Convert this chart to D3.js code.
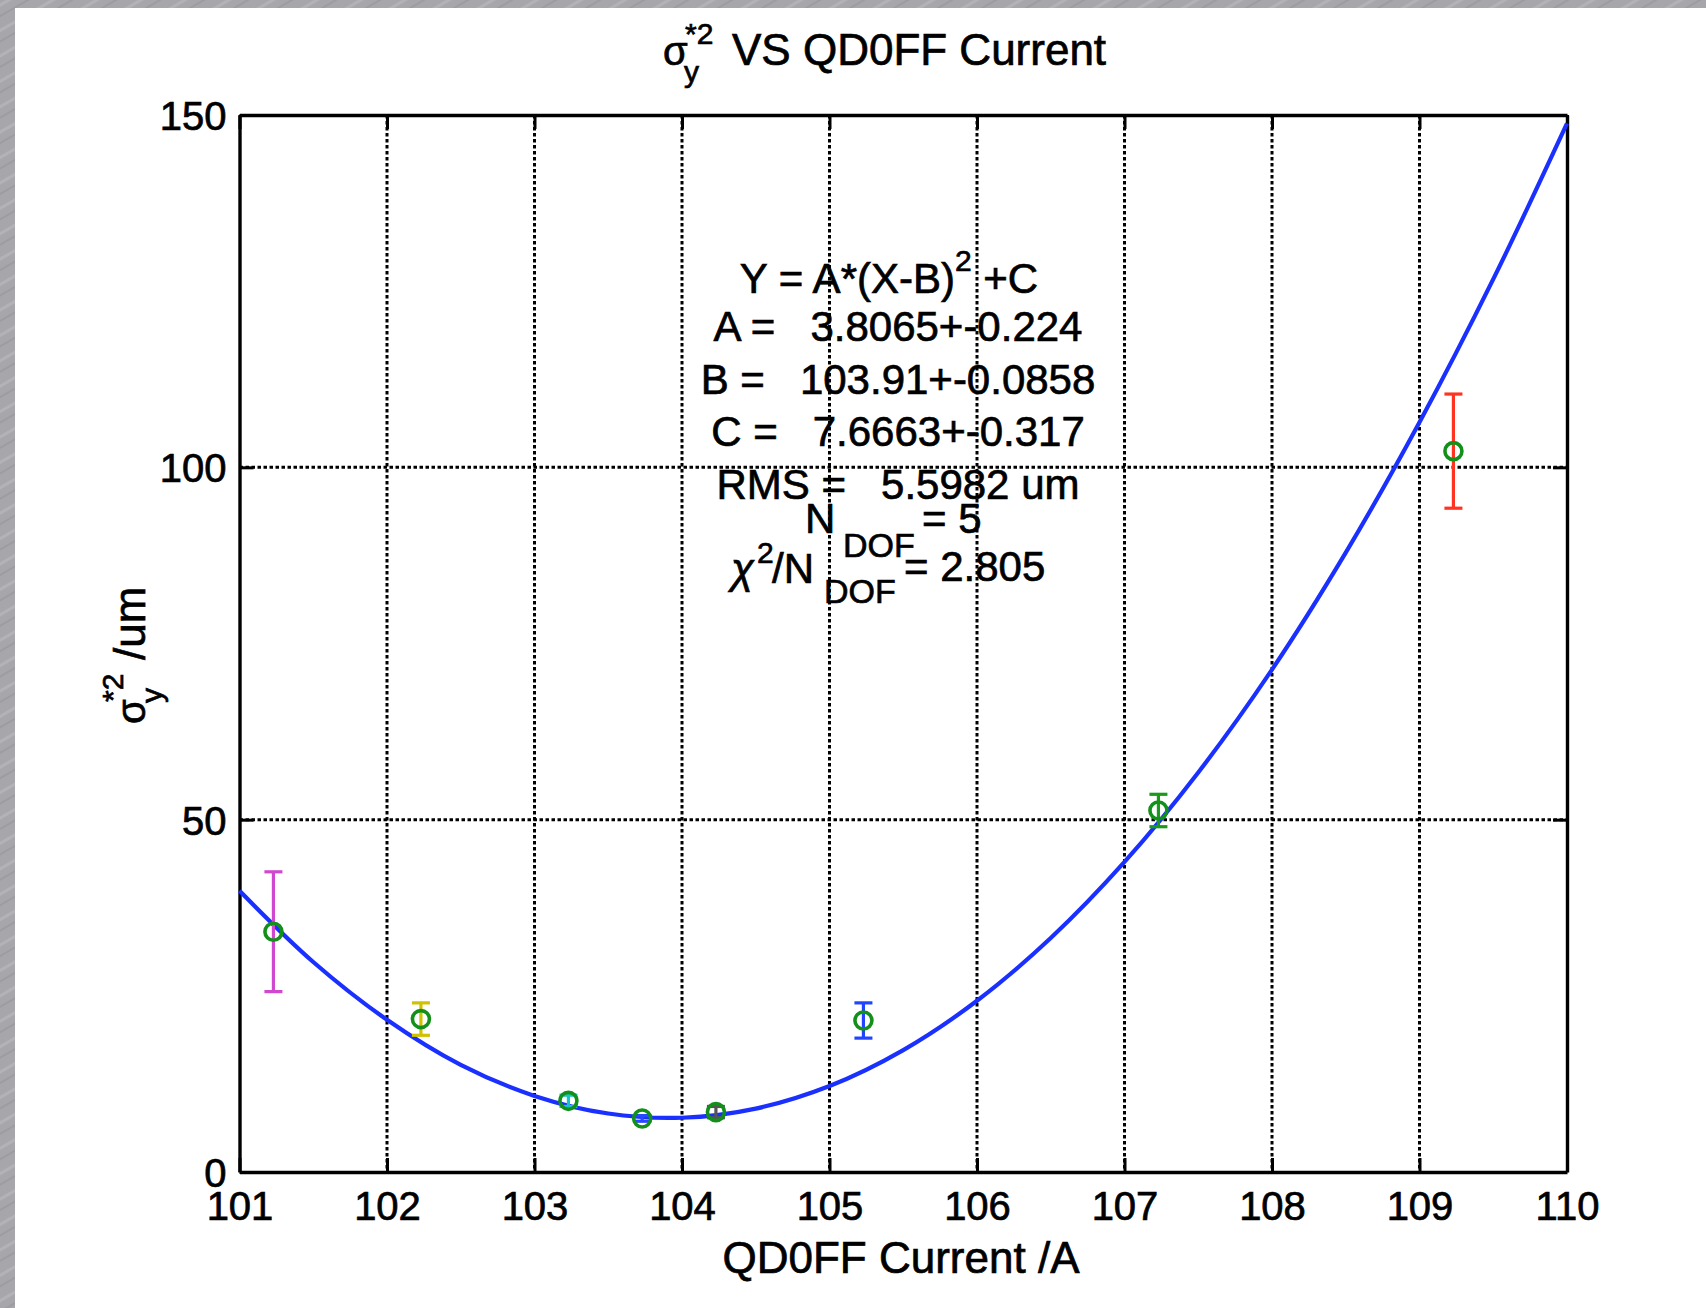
<!DOCTYPE html>
<html>
<head>
<meta charset="utf-8">
<script src="https://cdn.jsdelivr.net/npm/d3@7"></script>
<style>
  html, body { margin: 0; padding: 0; background: #ffffff; }
  svg text { font-family: "Liberation Sans", Arial, Helvetica, sans-serif; fill: #000; white-space: pre; stroke: #000; stroke-width: 0.7px; }
</style>
</head>
<body>
<svg id="chart" width="1706" height="1308"></svg>
<script>
// ---------------- data ----------------
const currents   = [101.23, 102.23, 103.23, 103.73, 104.23, 105.23, 107.23, 109.23];
const sigmaSq    = [34.1, 21.7, 10.1, 7.6, 8.5, 21.5, 51.3, 102.3];
const sigmaErr   = [8.5, 2.3, 0.8, 0.4, 0.8, 2.5, 2.3, 8.1];
const errColors  = ["#d048d0", "#cfc200", "#19c4c4", "#2a48ff", "#555555", "#2244ff", "#1a9a1a", "#ff3322"];

const fitCurrents = [101, 101.5, 102, 102.5, 103, 103.5, 104, 104.5, 105, 105.5, 106, 106.5, 107, 107.5, 108, 108.5, 109, 109.5, 110];
const fitValues   = [39.9, 29.8, 21.6, 15.2, 10.8, 8.3, 7.7, 9.0, 12.2, 17.3, 24.3, 33.2, 44.0, 56.7, 71.3, 87.9, 106.4, 126.7, 148.8];

const xTicks = [101, 102, 103, 104, 105, 106, 107, 108, 109, 110];
const yTicks = [0, 50, 100, 150];

const fitLines = [
  "A =   3.8065+-0.224",
  "B =   103.91+-0.0858",
  "C =   7.6663+-0.317",
  "RMS =   5.5982 um"
];

// ---------------- layout ----------------
const W = 1706, H = 1308;
const plot = { left: 239.5, right: 1567, top: 115, bottom: 1172 };

const svg = d3.select("#chart");

// brushed-metal background strips
const defs = svg.append("defs");
const pat = defs.append("pattern").attr("id", "metal").attr("patternUnits", "userSpaceOnUse")
  .attr("width", 22).attr("height", 22).attr("patternTransform", "rotate(-30)");
pat.append("rect").attr("width", 22).attr("height", 22).attr("fill", "#a7a6ab");
pat.append("rect").attr("y", 3).attr("width", 22).attr("height", 3).attr("fill", "#b3b2b7");
pat.append("rect").attr("y", 13).attr("width", 22).attr("height", 2).attr("fill", "#9d9ca1");
svg.append("rect").attr("width", W).attr("height", H).attr("fill", "url(#metal)");
svg.append("rect").attr("x", 15).attr("y", 8).attr("width", W - 15).attr("height", H - 8).attr("fill", "#ffffff");

const x = d3.scaleLinear().domain([101, 110]).range([plot.left, plot.right]);
const y = d3.scaleLinear().domain([0, 150]).range([plot.bottom, plot.top]);

const g = svg.append("g");

// grid lines (dotted)
g.append("g").selectAll("line").data(xTicks.slice(1, -1)).join("line")
  .attr("x1", d => x(d)).attr("x2", d => x(d))
  .attr("y1", plot.top).attr("y2", plot.bottom)
  .attr("stroke", "#000").attr("stroke-width", 3).attr("stroke-dasharray", "3.5,2.5");
g.append("g").selectAll("line").data(yTicks.slice(1, -1)).join("line")
  .attr("x1", plot.left).attr("x2", plot.right)
  .attr("y1", d => y(d)).attr("y2", d => y(d))
  .attr("stroke", "#000").attr("stroke-width", 3).attr("stroke-dasharray", "3.5,2.5");

// axes with inward ticks
const tickLen = 14;
const axB = d3.axisBottom(x).tickValues(xTicks).tickSize(-tickLen).tickSizeOuter(0).tickPadding(22);
const axT = d3.axisTop(x).tickValues(xTicks).tickSize(-tickLen).tickSizeOuter(0).tickFormat("");
const axL = d3.axisLeft(y).tickValues(yTicks).tickSize(-tickLen).tickSizeOuter(0).tickPadding(14);
const axR = d3.axisRight(y).tickValues(yTicks).tickSize(-tickLen).tickSizeOuter(0).tickFormat("");

function styleAxis(sel) {
  sel.select(".domain").attr("stroke", "#000").attr("stroke-width", 3.4);
  sel.selectAll(".tick line").attr("stroke", "#000").attr("stroke-width", 3);
  sel.selectAll(".tick text").attr("font-size", 40).attr("fill", "#000")
     .style("font-family", "'Liberation Sans', Arial, sans-serif");
}
const gB = g.append("g").attr("transform", `translate(0,${plot.bottom})`).call(axB).call(styleAxis);
gB.selectAll(".tick text").attr("dy", "0.71em").attr("y", 20);
g.append("g").attr("transform", `translate(0,${plot.top})`).call(axT).call(styleAxis);
const gL = g.append("g").attr("transform", `translate(${plot.left},0)`).call(axL).call(styleAxis);
gL.selectAll(".tick text").attr("x", -13).attr("dy", "0.36em");
g.append("g").attr("transform", `translate(${plot.right},0)`).call(axR).call(styleAxis);

// fit curve
const line = d3.line().x((d, i) => x(fitCurrents[i])).y(d => y(d)).curve(d3.curveCatmullRom.alpha(0.5));
g.append("path").datum(fitValues).attr("d", line)
  .attr("fill", "none").attr("stroke", "#1a30ff").attr("stroke-width", 4.2);

// error bars
const cap = 9;
const eb = g.append("g").selectAll("g").data(currents).join("g");
eb.append("line")
  .attr("x1", d => x(d)).attr("x2", d => x(d))
  .attr("y1", (d, i) => y(sigmaSq[i] - sigmaErr[i])).attr("y2", (d, i) => y(sigmaSq[i] + sigmaErr[i]))
  .attr("stroke", (d, i) => errColors[i]).attr("stroke-width", 3.2);
eb.append("line")
  .attr("x1", d => x(d) - cap).attr("x2", d => x(d) + cap)
  .attr("y1", (d, i) => y(sigmaSq[i] + sigmaErr[i])).attr("y2", (d, i) => y(sigmaSq[i] + sigmaErr[i]))
  .attr("stroke", (d, i) => errColors[i]).attr("stroke-width", 3.2);
eb.append("line")
  .attr("x1", d => x(d) - cap).attr("x2", d => x(d) + cap)
  .attr("y1", (d, i) => y(sigmaSq[i] - sigmaErr[i])).attr("y2", (d, i) => y(sigmaSq[i] - sigmaErr[i]))
  .attr("stroke", (d, i) => errColors[i]).attr("stroke-width", 3.2);

// markers
g.append("g").selectAll("circle").data(currents).join("circle")
  .attr("cx", d => x(d)).attr("cy", (d, i) => y(sigmaSq[i]))
  .attr("r", 8.5).attr("fill", "none").attr("stroke", "#12901a").attr("stroke-width", 3.6);

// ---------------- text ----------------
// title
const title = svg.append("g");
title.append("text").attr("x", 663).attr("y", 65).attr("font-size", 40).text("σ");
title.append("text").attr("x", 685).attr("y", 44).attr("font-size", 30).text("*2");
title.append("text").attr("x", 684).attr("y", 82).attr("font-size", 30).text("y");
title.append("text").attr("x", 732).attr("y", 65).attr("font-size", 44).text("VS QD0FF Current");

// x label
svg.append("text").attr("x", 901).attr("y", 1273).attr("font-size", 44)
  .attr("text-anchor", "middle").text("QD0FF Current /A");

// y label (rotated)
const yl = svg.append("g").attr("transform", "translate(145,724) rotate(-90)");
yl.append("text").attr("x", 0).attr("y", 0).attr("font-size", 40).text("σ");
yl.append("text").attr("x", 22).attr("y", -22).attr("font-size", 30).text("*2");
yl.append("text").attr("x", 21).attr("y", 17).attr("font-size", 30).text("y");
yl.append("text").attr("x", 64).attr("y", 0).attr("font-size", 44).text("/um");

// fit annotation
const ann = svg.append("g");
const eq = ann.append("text").attr("x", 889).attr("y", 293).attr("font-size", 42).attr("text-anchor", "middle");
eq.append("tspan").text("Y = A*(X-B)");
eq.append("tspan").attr("dy", -22).attr("font-size", 30).text("2");
eq.append("tspan").attr("dy", 22).text(" +C");

ann.selectAll("text.fit").data(fitLines).join("text").attr("class", "fit")
  .attr("x", 898).attr("y", (d, i) => 341 + i * 52.5)
  .attr("font-size", 42).attr("text-anchor", "middle").text(d => d);

// N_DOF = 5
ann.append("text").attr("x", 805).attr("y", 533).attr("font-size", 42).text("N");
ann.append("text").attr("x", 843).attr("y", 557).attr("font-size", 34).text("DOF");
ann.append("text").attr("x", 922).attr("y", 533).attr("font-size", 42).text("= 5");

// chi^2 / N_DOF = 2.805
ann.append("text").attr("x", 731).attr("y", 583).attr("font-size", 42).attr("font-style", "italic").text("χ");
ann.append("text").attr("x", 757).attr("y", 563).attr("font-size", 30).text("2");
ann.append("text").attr("x", 772).attr("y", 583).attr("font-size", 42).text("/N");
ann.append("text").attr("x", 824).attr("y", 603).attr("font-size", 34).text("DOF");
ann.append("text").attr("x", 904).attr("y", 581).attr("font-size", 42).text("= 2.805");
</script>
</body>
</html>
